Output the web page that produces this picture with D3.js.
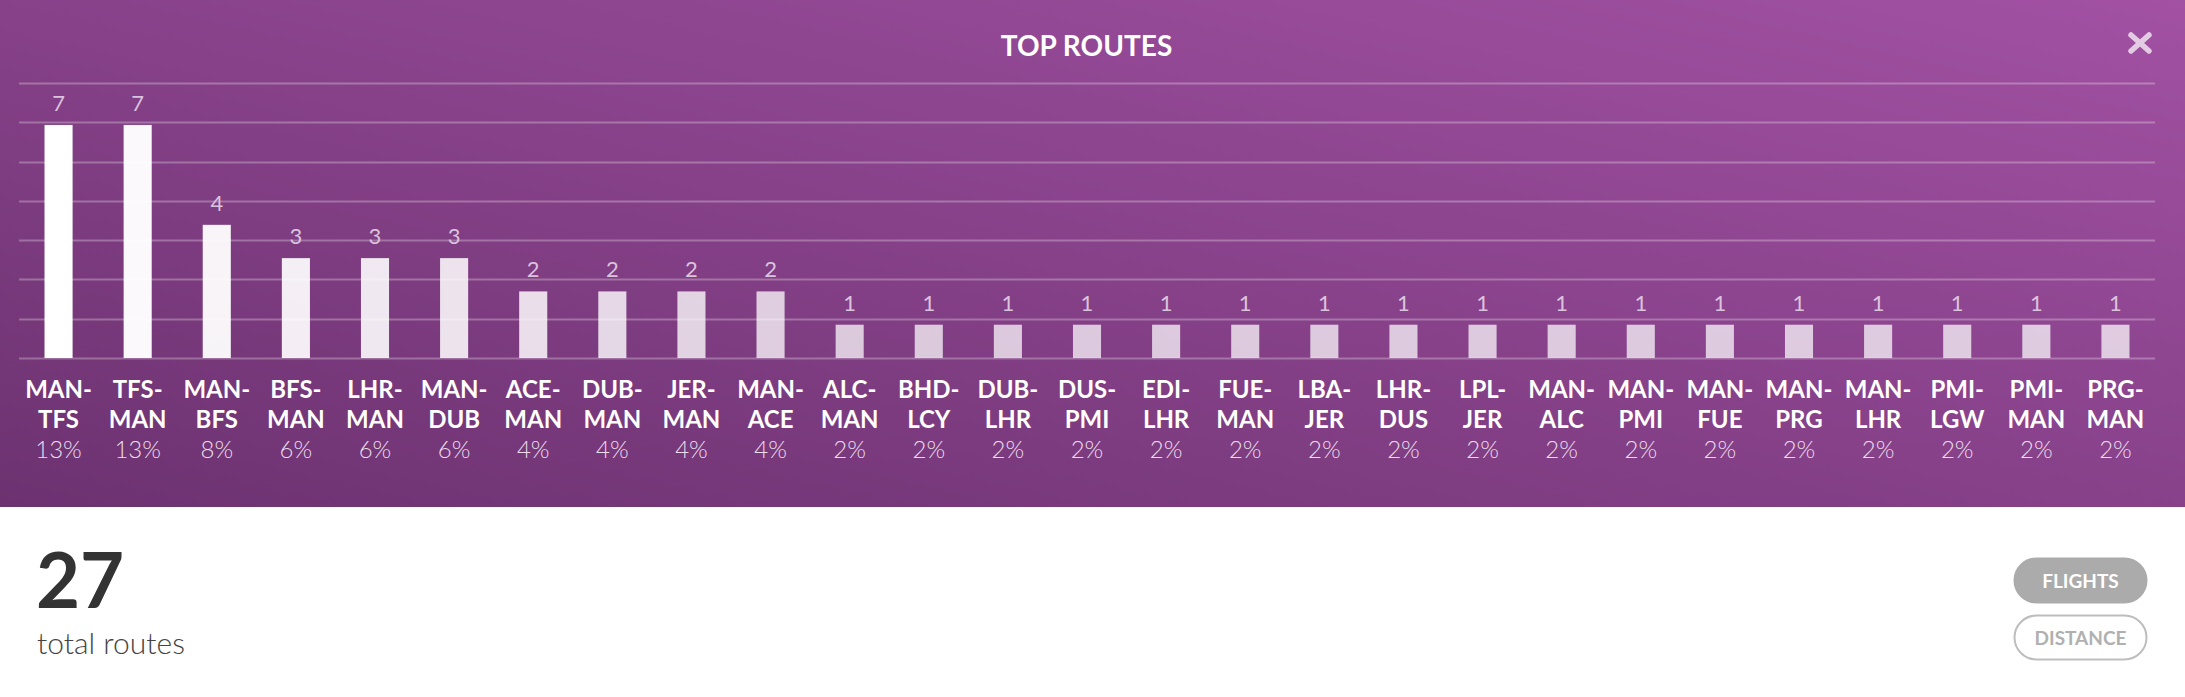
<!DOCTYPE html>
<html>
<head>
<meta charset="utf-8">
<script src="https://cdn.jsdelivr.net/npm/d3@7"></script>
<style>
  html, body { margin: 0; padding: 0; background: #ffffff; }
  svg { display: block; font-family: Lato, "Open Sans", sans-serif; }
</style>
</head>
<body>
<svg id="chart" width="2185" height="697"></svg>
<script>
// ---- data ----
const routes = ["MAN-TFS","TFS-MAN","MAN-BFS","BFS-MAN","LHR-MAN","MAN-DUB","ACE-MAN","DUB-MAN","JER-MAN","MAN-ACE",
  "ALC-MAN","BHD-LCY","DUB-LHR","DUS-PMI","EDI-LHR","FUE-MAN","LBA-JER","LHR-DUS","LPL-JER","MAN-ALC",
  "MAN-PMI","MAN-FUE","MAN-PRG","MAN-LHR","PMI-LGW","PMI-MAN","PRG-MAN"];
const flights = [7,7,4,3,3,3,2,2,2,2,1,1,1,1,1,1,1,1,1,1,1,1,1,1,1,1,1];
const shares = ["13%","13%","8%","6%","6%","6%","4%","4%","4%","4%","2%","2%","2%","2%","2%","2%","2%","2%","2%","2%",
  "2%","2%","2%","2%","2%","2%","2%"];
const titleText = "TOP ROUTES";
const totalRoutes = "27";
const totalLabel = "total routes";
const buttons = ["FLIGHTS", "DISTANCE"];

// ---- layout ----
const W = 2185, H = 697, panelH = 507;
const svg = d3.select("#chart");

const defs = svg.append("defs");
const grad = defs.append("linearGradient").attr("id", "bg")
  .attr("x1", 0).attr("y1", 1).attr("x2", 1).attr("y2", 0);
grad.append("stop").attr("offset", "0%").attr("stop-color", "#6c3270");
grad.append("stop").attr("offset", "100%").attr("stop-color", "#a251a3");

svg.append("rect").attr("x", 0).attr("y", 0).attr("width", W).attr("height", panelH).attr("fill", "url(#bg)");

// title
svg.append("text").attr("x", W / 2 - 6).attr("y", 56).attr("text-anchor", "middle")
  .attr("fill", "#ffffff").attr("font-weight", 700).attr("font-size", 28).text(titleText);

// close icon
const close = svg.append("g").attr("transform", "translate(2140,43)")
  .attr("stroke", "#e3cbe3").attr("stroke-width", 5.5).attr("stroke-linecap", "round");
close.append("line").attr("x1", -9).attr("y1", -8).attr("x2", 9).attr("y2", 8);
close.append("line").attr("x1", -9).attr("y1", 8).attr("x2", 9).attr("y2", -8);

// scales
const x = d3.scaleBand().domain(routes).range([19, 2155]).paddingInner(0.645).paddingOuter(0.3225);
const maxV = d3.max(flights);
const yTop = maxV * 1.18;
const y = d3.scaleLinear().domain([0, yTop]).range([358, 83]);
const opacity = d3.scaleLinear().domain([0, 10]).range([1, 0.72]).clamp(true);

// gridlines
const gridVals = d3.range(8).map(i => i * yTop / 7);
svg.append("g").selectAll("line").data(gridVals).join("line")
  .attr("x1", 19).attr("x2", 2155)
  .attr("y1", d => Math.round(y(d)) + 0.5).attr("y2", d => Math.round(y(d)) + 0.5)
  .attr("stroke", "rgba(255,255,255,0.28)").attr("stroke-width", 2);

// bars
const data = routes.map((r, i) => ({ r, v: flights[i], p: shares[i], i }));
svg.append("g").selectAll("rect").data(data).join("rect")
  .attr("x", d => x(d.r)).attr("width", x.bandwidth())
  .attr("y", d => y(d.v)).attr("height", d => y(0) - y(d.v))
  .attr("fill", "#ffffff").attr("fill-opacity", d => opacity(d.i));

// value labels
svg.append("g").selectAll("text").data(data).join("text")
  .attr("x", d => x(d.r) + x.bandwidth() / 2).attr("y", d => y(d.v) - 14)
  .attr("text-anchor", "middle").attr("fill", "#dcc3dd").attr("font-size", 22).attr("font-weight", 400)
  .text(d => d.v);

// category labels
const cat = svg.append("g").selectAll("g").data(data).join("g")
  .attr("transform", d => `translate(${x(d.r) + x.bandwidth() / 2},0)`);
cat.append("text").attr("y", 398).attr("text-anchor", "middle").attr("fill", "#ffffff")
  .attr("font-weight", 700).attr("font-size", 24).text(d => d.r.split("-")[0] + "-");
cat.append("text").attr("y", 428).attr("text-anchor", "middle").attr("fill", "#ffffff")
  .attr("font-weight", 700).attr("font-size", 24).text(d => d.r.split("-")[1]);
cat.append("text").attr("y", 458).attr("text-anchor", "middle").attr("fill", "#ecdcec")
  .attr("font-weight", 300).attr("font-size", 24).text(d => d.p);

// bottom summary
svg.append("text").attr("x", 36).attr("y", 608).attr("fill", "#333333")
  .attr("font-weight", 700).attr("font-size", 76).text(totalRoutes);
svg.append("text").attr("x", 37).attr("y", 654).attr("fill", "#444444")
  .attr("font-weight", 300).attr("font-size", 30).text(totalLabel);

// buttons
const btn = svg.append("g").selectAll("g").data(buttons).join("g")
  .attr("transform", (d, i) => `translate(2014.5,${558.5 + i * 57})`);
btn.append("rect").attr("width", 132).attr("height", 44).attr("rx", 22)
  .attr("fill", (d, i) => i === 0 ? "#ababab" : "#ffffff")
  .attr("stroke", (d, i) => i === 0 ? "#ababab" : "#bdbdbd").attr("stroke-width", 2);
btn.append("text").attr("x", 66).attr("y", 29).attr("text-anchor", "middle")
  .attr("font-weight", 700).attr("font-size", 19)
  .attr("fill", (d, i) => i === 0 ? "#ffffff" : "#b0b0b0").text(d => d);
</script>
</body>
</html>
